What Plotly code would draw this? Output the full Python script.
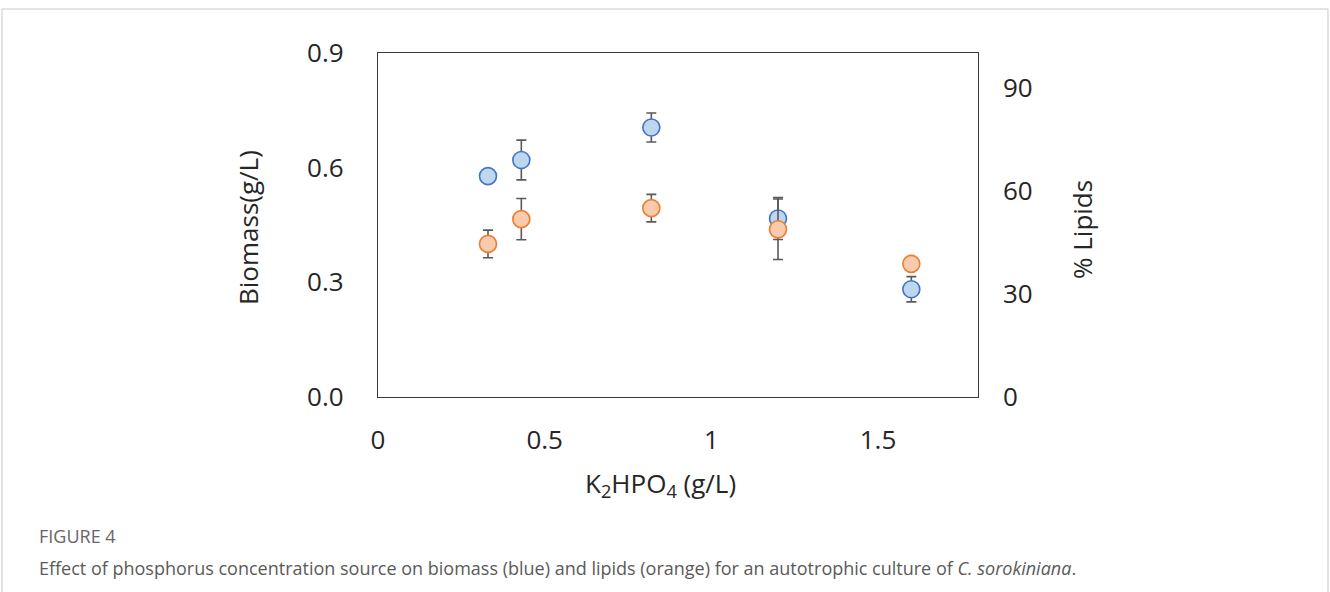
import plotly.graph_objects as go

# ---- data ----
k2hpo4 = [0.33, 0.43, 0.82, 1.2, 1.6]
biomass = [0.578, 0.620, 0.705, 0.467, 0.282]
biomass_err = [0.0, 0.052, 0.038, 0.055, 0.033]
lipids = [44.5, 51.7, 54.9, 48.75, 38.7]
lipids_err = [4.0, 6.0, 4.0, 8.8, 0.0]

x_ticks = [0, 0.5, 1, 1.5]
x_ticktext = ["0", "0.5", "1", "1.5"]
y_ticks = [0, 0.3, 0.6, 0.9]
y_ticktext = ["0.0", "0.3", "0.6", "0.9"]
y2_ticks = [0, 30, 60, 90]
y2_ticktext = ["0", "30", "60", "90"]

W, H = 1330, 592
L, R, T, B = 378, 978, 53, 397  # plot area in pixels


def px(xp):
    return (xp - L) / (R - L)


def py(yp):
    return (B - yp) / (B - T)


FONT = "Open Sans"
TXT = "#262626"
TICKSIZE = 26

fig = go.Figure()
fig.add_trace(go.Scatter(
    x=k2hpo4, y=biomass, mode="markers", name="Biomass",
    marker=dict(size=17, color="#bdd7ee", line=dict(color="#4472c4", width=1.6)),
    error_y=dict(type="data", array=biomass_err, visible=True,
                 color="#595959", thickness=1.6, width=5),
    yaxis="y", showlegend=False,
))
fig.add_trace(go.Scatter(
    x=k2hpo4, y=lipids, mode="markers", name="Lipids",
    marker=dict(size=17, color="#f8cbad", line=dict(color="#ed7d31", width=1.6)),
    error_y=dict(type="data", array=lipids_err, visible=True,
                 color="#595959", thickness=1.6, width=5),
    yaxis="y2", showlegend=False,
))

axis_common = dict(showgrid=False, zeroline=False, ticks="",
                   tickfont=dict(family=FONT, size=TICKSIZE, color=TXT))

fig.update_layout(
    width=W, height=H,
    margin=dict(l=L, r=W - R, t=T, b=H - B, autoexpand=False),
    paper_bgcolor="white", plot_bgcolor="white",
    font=dict(family=FONT, color=TXT),
    xaxis=dict(range=[0, 1.8], tickvals=x_ticks, ticktext=x_ticktext,
               showline=True, mirror=True, linecolor="#3a3a3a", linewidth=1.3,
               ticklabelstandoff=20, **axis_common),
    yaxis=dict(range=[0, 0.9], tickvals=y_ticks, ticktext=y_ticktext,
               showline=True, mirror=True, linecolor="#3a3a3a", linewidth=1.3,
               ticklabelstandoff=28, **axis_common),
    yaxis2=dict(range=[0, 100], tickvals=y2_ticks, ticktext=y2_ticktext,
                overlaying="y", side="right", showline=False,
                ticklabelstandoff=24, **axis_common),
)

annotations = [
    dict(text="Biomass(g/L)", x=px(248), y=py(228), textangle=-90,
         font=dict(family=FONT, size=TICKSIZE, color=TXT)),
    dict(text="% Lipids", x=px(1082), y=py(230), textangle=-90,
         font=dict(family=FONT, size=TICKSIZE, color=TXT)),
    dict(text="K<sub>2</sub>HPO<sub>4</sub> (g/L)", x=px(660), y=py(484),
         font=dict(family=FONT, size=TICKSIZE, color=TXT)),
    dict(text="FIGURE 4", x=px(37), y=py(536), xanchor="left",
         font=dict(family=FONT, size=18, color="#666666")),
    dict(text="Effect of phosphorus concentration source on biomass (blue) and lipids (orange) "
              "for an autotrophic culture of <i>C. sorokiniana</i>.",
         x=px(37), y=py(568), xanchor="left",
         font=dict(family=FONT, size=18, color="#5a5a5a")),
]
for a in annotations:
    a.setdefault("xanchor", "center")
    fig.add_annotation(xref="paper", yref="paper", showarrow=False, yanchor="middle", **a)

fig.add_shape(type="rect", xref="paper", yref="paper",
              x0=px(2), x1=px(1328), y0=py(640), y1=py(9),
              line=dict(color="#c8c8c8", width=1), fillcolor="rgba(0,0,0,0)", layer="below")

fig.write_html("out.html")
